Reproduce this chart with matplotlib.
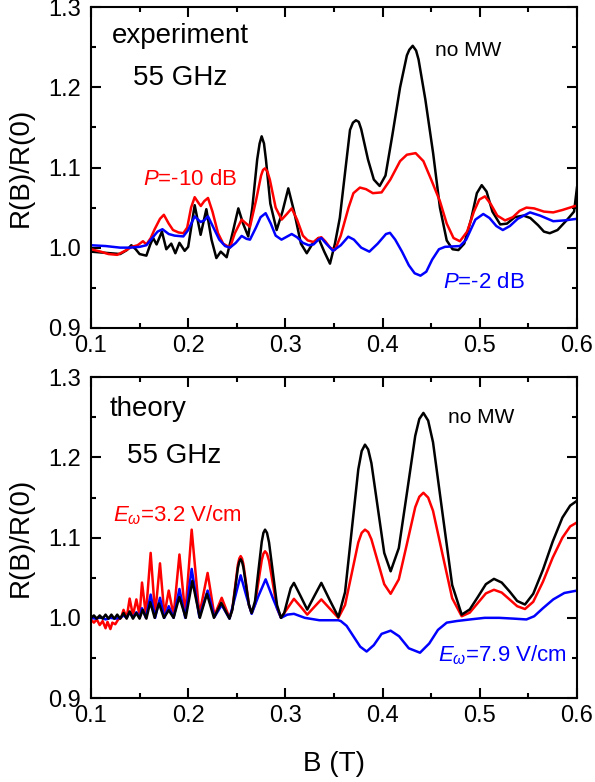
import matplotlib
matplotlib.use("Agg")
import matplotlib.pyplot as plt
from matplotlib.ticker import MultipleLocator, FormatStrFormatter

plt.rcParams['font.family'] = ['Liberation Sans', 'DejaVu Sans']
plt.rcParams['mathtext.fontset'] = 'custom'
plt.rcParams['mathtext.it'] = 'Liberation Sans:italic'
plt.rcParams['mathtext.rm'] = 'Liberation Sans'

# experiment, no MW
exp_nomw_B = [0.100, 0.110, 0.120, 0.130, 0.137, 0.1415, 0.146, 0.150, 0.157, 0.161, 0.164, 0.1675,
              0.173, 0.1775, 0.1826, 0.1868, 0.191, 0.1964, 0.200, 0.2067, 0.2128, 0.2187, 0.224,
              0.229, 0.2335, 0.2396, 0.246, 0.2516, 0.2565, 0.2618, 0.266, 0.271, 0.2735, 0.2756,
              0.278, 0.280, 0.2845, 0.291, 0.297, 0.303, 0.309, 0.316, 0.322, 0.328, 0.334, 0.340,
              0.3459, 0.351, 0.356, 0.362, 0.3665, 0.3695, 0.3726, 0.3755, 0.378, 0.385, 0.391,
              0.397, 0.403, 0.410, 0.418, 0.425, 0.4275, 0.431, 0.4345, 0.437, 0.444, 0.452,
              0.459, 0.466, 0.472, 0.478, 0.484, 0.491, 0.497, 0.502, 0.507, 0.513, 0.521, 0.528,
              0.536, 0.545, 0.552, 0.560, 0.566, 0.572, 0.580, 0.590, 0.597, 0.600]
exp_nomw = [0.995, 0.994, 0.993, 0.992, 0.997, 1.003, 0.998, 0.992, 0.990, 1.004, 1.012, 1.004,
            1.020, 0.998, 1.005, 0.993, 1.006, 0.996, 1.001, 1.053, 1.016, 1.048, 1.010,
            0.987, 0.995, 0.988, 1.020, 1.049, 1.030, 1.014, 1.050, 1.110, 1.130, 1.139,
            1.130, 1.110, 1.055, 1.022, 1.045, 1.074, 1.045, 1.005, 0.993, 1.005, 1.012, 0.995,
            0.980, 1.005, 1.037, 1.100, 1.147, 1.156, 1.159, 1.157, 1.148, 1.110, 1.085,
            1.077, 1.090, 1.140, 1.200, 1.240, 1.247, 1.252, 1.246, 1.235, 1.185, 1.118,
            1.050, 1.009, 0.998, 0.997, 1.005, 1.035, 1.068, 1.078, 1.070, 1.045, 1.029, 1.030,
            1.038, 1.040, 1.037, 1.028, 1.020, 1.018, 1.022, 1.035, 1.045, 1.075]

# experiment, P = -10 dB
exp_p10_B = [0.100, 0.110, 0.118, 0.127, 0.135, 0.142, 0.148, 0.1535, 0.157, 0.1615, 0.1655, 0.171,
             0.175, 0.180, 0.1844, 0.190, 0.195, 0.199, 0.203, 0.2067, 0.2105, 0.213, 0.2165,
             0.2204, 0.225, 0.2307, 0.236, 0.243, 0.248, 0.255, 0.2636, 0.270, 0.275, 0.277,
             0.279, 0.2815, 0.284, 0.290, 0.2962, 0.3015, 0.3065, 0.312, 0.318, 0.323, 0.329,
             0.334, 0.337, 0.341, 0.346, 0.351, 0.357, 0.365, 0.370, 0.3767, 0.383, 0.390,
             0.399, 0.408, 0.418, 0.425, 0.434, 0.442, 0.450, 0.459, 0.466, 0.473, 0.4796,
             0.487, 0.494, 0.4995, 0.5053, 0.511, 0.518, 0.526, 0.534, 0.541, 0.548, 0.556,
             0.566, 0.5756, 0.585, 0.598, 0.600]
exp_p10 = [0.998, 0.995, 0.992, 0.991, 0.996, 1.001, 1.003, 1.008, 1.004, 1.012, 1.023, 1.036,
           1.041, 1.030, 1.022, 1.019, 1.018, 1.025, 1.050, 1.063, 1.056, 1.052, 1.058,
           1.062, 1.045, 1.018, 1.005, 1.000, 1.018, 1.035, 1.026, 1.060, 1.090, 1.097,
           1.099, 1.095, 1.085, 1.050, 1.035, 1.042, 1.049, 1.035, 1.015, 1.009, 1.007,
           1.012, 1.013, 1.008, 1.000, 0.997, 1.015, 1.050, 1.068, 1.075, 1.073, 1.068,
           1.069, 1.085, 1.108, 1.116, 1.118, 1.108, 1.085, 1.058, 1.030, 1.012, 1.008,
           1.020, 1.045, 1.060, 1.064, 1.055, 1.040, 1.034, 1.038, 1.046, 1.050, 1.049,
           1.045, 1.044, 1.047, 1.052, 1.052]

# experiment, P = -2 dB
exp_p2_B = [0.100, 0.115, 0.130, 0.140, 0.150, 0.157, 0.163, 0.1685, 0.1735, 0.180, 0.186, 0.195,
            0.200, 0.2067, 0.2128, 0.2165, 0.2204, 0.226, 0.232, 0.238, 0.243, 0.249, 0.255,
            0.260, 0.2636, 0.2697, 0.2745, 0.2797, 0.285, 0.290, 0.296, 0.302, 0.3065, 0.312,
            0.318, 0.324, 0.329, 0.334, 0.337, 0.342, 0.349, 0.357, 0.3647, 0.3705, 0.378,
            0.3864, 0.395, 0.4035, 0.4076, 0.413, 0.420, 0.427, 0.433, 0.439, 0.445, 0.451,
            0.458, 0.4642, 0.4796, 0.486, 0.4955, 0.5036, 0.510, 0.517, 0.5237, 0.531, 0.539,
            0.5517, 0.562, 0.5756, 0.587, 0.600]
exp_p2 = [1.003, 1.002, 1.000, 1.000, 1.001, 1.003, 1.012, 1.020, 1.023, 1.017, 1.015, 1.014,
          1.022, 1.039, 1.032, 1.034, 1.039, 1.025, 1.010, 1.002, 1.000, 1.006, 1.0146,
          1.011, 1.010, 1.025, 1.038, 1.043, 1.030, 1.015, 1.010, 1.014, 1.017, 1.013,
          1.006, 1.003, 1.004, 1.010, 1.012, 1.005, 0.996, 1.003, 1.0137, 1.010, 1.000,
          0.995, 1.005, 1.017, 1.0185, 1.010, 0.995, 0.978, 0.968, 0.965, 0.970, 0.985,
          0.998, 1.001, 1.002, 1.010, 1.035, 1.042, 1.037, 1.027, 1.022, 1.027, 1.036,
          1.044, 1.040, 1.033, 1.034, 1.036]

# theory, no MW
th_nomw_B = [0.100, 0.103, 0.106, 0.109, 0.112, 0.115, 0.118, 0.121, 0.124, 0.127, 0.130, 0.1335,
             0.1367, 0.1398, 0.1432, 0.1467, 0.150, 0.1532, 0.157, 0.161, 0.1655, 0.170, 0.175,
             0.180, 0.185, 0.1909, 0.1975, 0.2043, 0.212, 0.2193, 0.2265, 0.234, 0.2425, 0.2454,
             0.2483, 0.2511, 0.2526, 0.254, 0.2554, 0.2568, 0.2597, 0.2625, 0.2653, 0.2688,
             0.2722, 0.2757, 0.2774, 0.2791, 0.2811, 0.2832, 0.2873, 0.2914, 0.2955, 0.2988,
             0.3022, 0.3055, 0.3088, 0.3157, 0.3225, 0.3297, 0.337, 0.3457, 0.3545, 0.3614,
             0.3682, 0.375, 0.3785, 0.3819, 0.3852, 0.3885, 0.3951, 0.4017, 0.4083, 0.4167,
             0.4252, 0.4336, 0.4378, 0.442, 0.4469, 0.4519, 0.4617, 0.4716, 0.4814, 0.4897,
             0.498, 0.5063, 0.5146, 0.5226, 0.5306, 0.5385, 0.5465, 0.555, 0.565, 0.575, 0.585,
             0.593, 0.600]
th_nomw = [1.000, 1.003, 0.999, 1.003, 0.999, 1.004, 0.999, 1.004, 0.999, 1.004, 0.999, 1.006,
           0.999, 1.008, 0.999, 1.006, 0.999, 1.010, 0.999, 1.0195, 1.000, 1.018, 1.000,
           1.0095, 1.000, 1.026, 1.000, 1.046, 1.000, 1.030, 1.000, 1.0187, 0.999, 1.0098,
           1.036, 1.062, 1.070, 1.073, 1.070, 1.063, 1.0395, 1.016, 1.006, 1.021,
           1.058, 1.095, 1.106, 1.110, 1.106, 1.094, 1.055, 1.016, 1.000, 1.006,
           1.022, 1.037, 1.0436, 1.027, 1.0103, 1.027, 1.0436, 1.022, 1.001, 1.032,
           1.1085, 1.185, 1.208, 1.216, 1.210, 1.193, 1.137, 1.081, 1.058, 1.087,
           1.157, 1.227, 1.248, 1.2556, 1.246, 1.219, 1.130, 1.041, 1.004, 1.0105,
           1.026, 1.042, 1.0486, 1.044, 1.033, 1.021, 1.0166, 1.030, 1.060, 1.095, 1.125,
           1.140, 1.146]

# theory, E = 3.2 V/cm
th_e32_B = [0.100, 0.103, 0.106, 0.109, 0.112, 0.115, 0.117, 0.120, 0.122, 0.125, 0.128, 0.131,
            0.1335, 0.1367, 0.1398, 0.1432, 0.1467, 0.150, 0.1525, 0.1565, 0.1614, 0.166, 0.171,
            0.1755, 0.180, 0.185, 0.191, 0.197, 0.2036, 0.2115, 0.220, 0.227, 0.2345, 0.2425,
            0.2454, 0.2483, 0.2511, 0.2526, 0.254, 0.2554, 0.2568, 0.2597, 0.2625, 0.2653,
            0.2688, 0.2722, 0.2757, 0.2774, 0.2791, 0.2811, 0.2832, 0.2873, 0.2914, 0.2955,
            0.3022, 0.3088, 0.3157, 0.3225, 0.3297, 0.337, 0.3457, 0.3545, 0.3614, 0.3682,
            0.375, 0.3785, 0.3819, 0.3852, 0.3885, 0.3951, 0.4017, 0.4083, 0.4167, 0.4252,
            0.4336, 0.4378, 0.442, 0.4469, 0.4519, 0.4617, 0.4716, 0.4814, 0.4897, 0.498,
            0.5063, 0.5146, 0.5226, 0.5306, 0.5385, 0.5465, 0.555, 0.565, 0.575, 0.585, 0.593,
            0.600]
th_e32 = [0.998, 0.994, 0.998, 0.991, 0.996, 0.987, 0.995, 0.986, 0.994, 0.992, 0.998, 1.000,
          1.010, 1.000, 1.024, 1.003, 1.023, 1.003, 1.044, 1.004, 1.081, 1.004, 1.068,
          1.004, 1.034, 1.003, 1.079, 1.004, 1.110, 1.004, 1.056, 1.003, 1.025, 1.000,
          1.011, 1.0385, 1.066, 1.074, 1.077, 1.074, 1.067, 1.0415, 1.016, 1.006,
          1.017, 1.0445, 1.072, 1.080, 1.083, 1.080, 1.071, 1.0415, 1.012, 1.000,
          1.012, 1.0237, 1.014, 1.004, 1.0135, 1.023, 1.0115, 1.000, 1.016, 1.055,
          1.094, 1.106, 1.110, 1.107, 1.098, 1.070, 1.042, 1.030, 1.048, 1.093,
          1.138, 1.151, 1.156, 1.150, 1.1335, 1.079, 1.0245, 1.002, 1.0065, 1.0185,
          1.0305, 1.035, 1.0315, 1.023, 1.0145, 1.011, 1.020, 1.045, 1.075, 1.100, 1.114,
          1.119]

# theory, E = 7.9 V/cm
th_e79_B = [0.100, 0.105, 0.110, 0.115, 0.120, 0.125, 0.130, 0.1335, 0.1367, 0.1398, 0.1432,
            0.1467, 0.150, 0.1525, 0.1565, 0.1614, 0.166, 0.171, 0.1755, 0.180, 0.185, 0.191,
            0.197, 0.2036, 0.2115, 0.220, 0.227, 0.2345, 0.2425, 0.2483, 0.254, 0.2597,
            0.2653, 0.2722, 0.2797, 0.2873, 0.2955, 0.302, 0.3088, 0.320, 0.335, 0.3545,
            0.357, 0.363, 0.370, 0.377, 0.3836, 0.391, 0.399, 0.4083, 0.417, 0.427, 0.4385,
            0.448, 0.457, 0.466, 0.4762, 0.490, 0.505, 0.520, 0.535, 0.548, 0.556, 0.565,
            0.5756, 0.587, 0.600]
th_e79 = [1.000, 0.999, 1.001, 0.998, 1.000, 0.999, 1.000, 1.003, 1.000, 1.007, 1.000,
          1.007, 1.000, 1.012, 1.000, 1.029, 1.000, 1.025, 1.000, 1.0145, 1.000, 1.036,
          1.000, 1.061, 1.001, 1.034, 1.001, 1.016, 0.999, 1.026, 1.053, 1.028,
          1.005, 1.027, 1.048, 1.024, 1.000, 1.004, 1.005, 1.000, 0.997, 0.997,
          0.996, 0.990, 0.977, 0.964, 0.958, 0.966, 0.980, 0.984, 0.977, 0.962, 0.9565,
          0.968, 0.985, 0.994, 0.996, 0.998, 1.000, 1.000, 0.999, 0.998, 1.002, 1.012,
          1.023, 1.031, 1.034]


def style_axes(ax):
    ax.set_xlim(0.1, 0.6)
    ax.set_ylim(0.9, 1.3)
    ax.xaxis.set_major_locator(MultipleLocator(0.1))
    ax.xaxis.set_minor_locator(MultipleLocator(0.05))
    ax.yaxis.set_major_locator(MultipleLocator(0.1))
    ax.yaxis.set_minor_locator(MultipleLocator(0.05))
    ax.xaxis.set_major_formatter(FormatStrFormatter('%.1f'))
    ax.yaxis.set_major_formatter(FormatStrFormatter('%.1f'))
    ax.tick_params(which='both', direction='in', top=True, right=True, width=1.5, labelsize=17)
    ax.tick_params(which='major', length=7.5, pad=5)
    ax.tick_params(which='minor', length=3.8)
    ax.tick_params(axis='y', which='major', pad=7)
    for s in ax.spines.values():
        s.set_linewidth(1.5)
    ax.set_ylabel('R(B)/R(0)', fontsize=20)
    ax.yaxis.set_label_coords(-0.118, 0.5)


fig = plt.figure(figsize=(5.95, 7.82), dpi=100)

ax1 = fig.add_axes([0.1529, 0.5809, 0.8168, 0.4097])
ax1.plot(exp_nomw_B, exp_nomw, color='black', lw=1.8)
ax1.plot(exp_p10_B, exp_p10, color='#ff0000', lw=1.8)
ax1.plot(exp_p2_B, exp_p2, color='#0000ff', lw=1.8)
style_axes(ax1)
ax1.text(0.1213, 1.255, 'experiment', fontsize=20)
ax1.text(0.1434, 1.203, '55 GHz', fontsize=20)
ax1.text(0.4539, 1.239, 'no MW', fontsize=15)
ax1.text(0.1538, 1.078, r'$P$=-10 dB', fontsize=16, color='#ff0000')
ax1.text(0.4625, 0.949, r'$P$=-2 dB', fontsize=16, color='#0000ff')

ax2 = fig.add_axes([0.1529, 0.1074, 0.8168, 0.4101])
ax2.plot(th_e32_B, th_e32, color='#ff0000', lw=1.8)
ax2.plot(th_e79_B, th_e79, color='#0000ff', lw=1.8)
ax2.plot(th_nomw_B, th_nomw, color='black', lw=1.8)
style_axes(ax2)
ax2.set_xlabel('B (T)', fontsize=20)
ax2.xaxis.set_label_coords(0.5, -0.165)
ax2.text(0.1195, 1.2514, 'theory', fontsize=20)
ax2.text(0.1367, 1.193, '55 GHz', fontsize=20)
ax2.text(0.4676, 1.243, 'no MW', fontsize=15)
ax2.text(0.1226, 1.1205, r'$E_\omega$=3.2 V/cm', fontsize=16, color='#ff0000')
ax2.text(0.4573, 0.946, r'$E_\omega$=7.9 V/cm', fontsize=16, color='#0000ff')

fig.savefig('out.png', dpi=100)
